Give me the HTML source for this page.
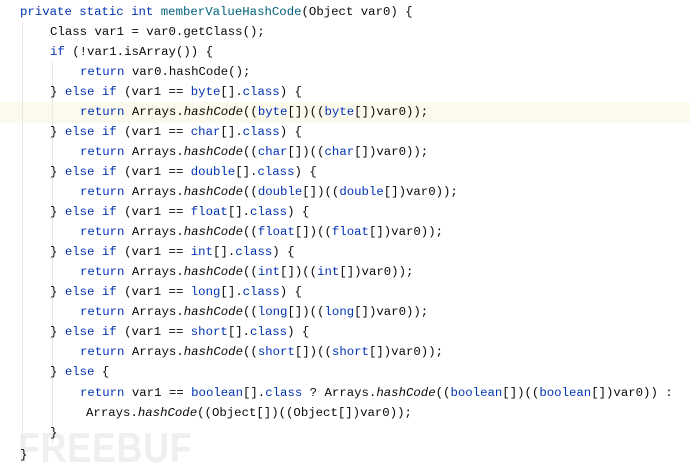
<!DOCTYPE html>
<html><head><style>
html,body{margin:0;padding:0;background:#fff;width:690px;height:468px;overflow:hidden;position:relative}
.l{position:absolute;height:20px;line-height:20px;font-family:"Liberation Mono",monospace;font-size:12.35px;color:#080808;white-space:pre}
.k{color:#0033b3}.m{color:#00627a}.i{font-style:italic}
.hl{position:absolute;left:0;width:690px;top:102px;height:21px;background:#fcfaed}
.g{position:absolute;width:1px;background:#e8e8e8}
.wm{position:absolute;left:18px;top:424px;font-family:"Liberation Sans",sans-serif;font-weight:bold;font-size:42px;color:#efefef;letter-spacing:1px;transform:scaleX(.85);transform-origin:left}
</style></head><body>
<div class="hl"></div>
<div class="wm">FREEBUF</div>
<div class="g" style="left:22px;top:22px;height:423px"></div>
<div class="g" style="left:52px;top:62px;height:382px"></div>
<div class="l" style="left:20px;top:2px"><span class="k">private static int</span> <span class="m">memberValueHashCode</span>(Object var0) {</div>
<div class="l" style="left:50px;top:22px">Class var1 = var0.getClass();</div>
<div class="l" style="left:50px;top:42px"><span class="k">if</span> (!var1.isArray()) {</div>
<div class="l" style="left:80px;top:62px"><span class="k">return</span> var0.hashCode();</div>
<div class="l" style="left:50px;top:82px">} <span class="k">else if</span> (var1 == <span class="k">byte</span>[].<span class="k">class</span>) {</div>
<div class="l" style="left:80px;top:102px"><span class="k">return</span> Arrays.<span class="i">hashCode</span>((<span class="k">byte</span>[])((<span class="k">byte</span>[])var0));</div>
<div class="l" style="left:50px;top:122px">} <span class="k">else if</span> (var1 == <span class="k">char</span>[].<span class="k">class</span>) {</div>
<div class="l" style="left:80px;top:142px"><span class="k">return</span> Arrays.<span class="i">hashCode</span>((<span class="k">char</span>[])((<span class="k">char</span>[])var0));</div>
<div class="l" style="left:50px;top:162px">} <span class="k">else if</span> (var1 == <span class="k">double</span>[].<span class="k">class</span>) {</div>
<div class="l" style="left:80px;top:182px"><span class="k">return</span> Arrays.<span class="i">hashCode</span>((<span class="k">double</span>[])((<span class="k">double</span>[])var0));</div>
<div class="l" style="left:50px;top:202px">} <span class="k">else if</span> (var1 == <span class="k">float</span>[].<span class="k">class</span>) {</div>
<div class="l" style="left:80px;top:222px"><span class="k">return</span> Arrays.<span class="i">hashCode</span>((<span class="k">float</span>[])((<span class="k">float</span>[])var0));</div>
<div class="l" style="left:50px;top:242px">} <span class="k">else if</span> (var1 == <span class="k">int</span>[].<span class="k">class</span>) {</div>
<div class="l" style="left:80px;top:262px"><span class="k">return</span> Arrays.<span class="i">hashCode</span>((<span class="k">int</span>[])((<span class="k">int</span>[])var0));</div>
<div class="l" style="left:50px;top:282px">} <span class="k">else if</span> (var1 == <span class="k">long</span>[].<span class="k">class</span>) {</div>
<div class="l" style="left:80px;top:302px"><span class="k">return</span> Arrays.<span class="i">hashCode</span>((<span class="k">long</span>[])((<span class="k">long</span>[])var0));</div>
<div class="l" style="left:50px;top:322px">} <span class="k">else if</span> (var1 == <span class="k">short</span>[].<span class="k">class</span>) {</div>
<div class="l" style="left:80px;top:342px"><span class="k">return</span> Arrays.<span class="i">hashCode</span>((<span class="k">short</span>[])((<span class="k">short</span>[])var0));</div>
<div class="l" style="left:50px;top:362px">} <span class="k">else</span> {</div>
<div class="l" style="left:80px;top:383px"><span class="k">return</span> var1 == <span class="k">boolean</span>[].<span class="k">class</span> ? Arrays.<span class="i">hashCode</span>((<span class="k">boolean</span>[])((<span class="k">boolean</span>[])var0)) :</div>
<div class="l" style="left:86px;top:403px">Arrays.<span class="i">hashCode</span>((Object[])((Object[])var0));</div>
<div class="l" style="left:50px;top:423px">}</div>
<div class="l" style="left:20px;top:445px">}</div>
</body></html>
